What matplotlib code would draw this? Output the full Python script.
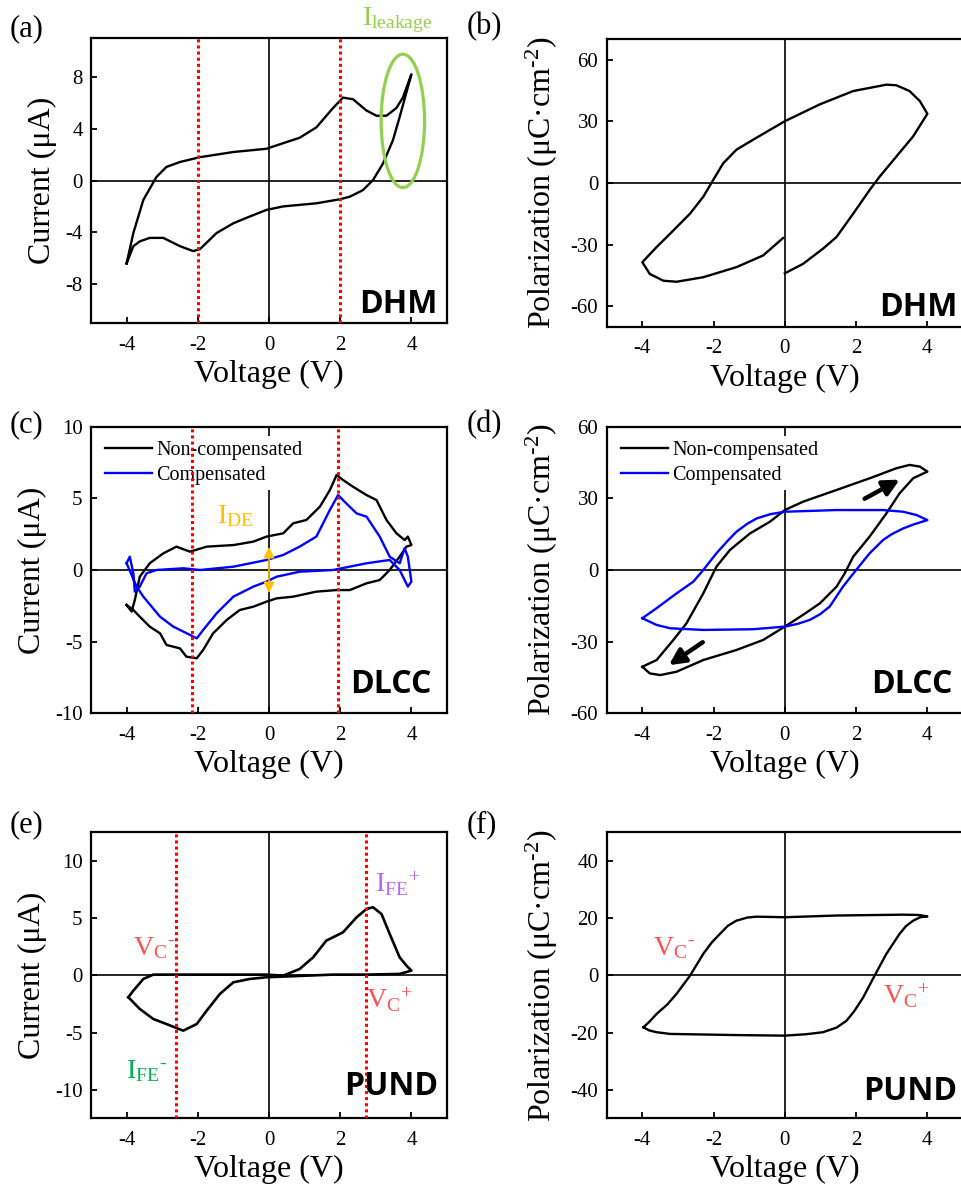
import numpy as np
import matplotlib
matplotlib.use('Agg')
import matplotlib.pyplot as plt
from matplotlib.patches import Ellipse

plt.rcParams['font.family'] = 'Liberation Serif'
plt.rcParams['mathtext.fontset'] = 'custom'
plt.rcParams['mathtext.rm'] = 'Liberation Serif'
plt.rcParams['mathtext.it'] = 'Liberation Serif:italic'
plt.rcParams['axes.unicode_minus'] = False

# (a) DHM current loop
dhm_i_v = [-4.0, -3.81, -3.53, -3.16, -2.88, -2.5, -1.94, -1.0, -0.07, 0.2, 0.86, 1.33, 1.8, 2.08, 2.36,
           2.74, 3.02, 3.3, 3.58, 3.76, 4.0, 3.9, 3.67, 3.48, 3.2, 2.92, 2.64, 2.27, 1.99, 1.33, 0.4, -0.07,
           -0.54, -1.0, -1.47, -1.94, -2.13, -2.5, -2.97, -3.35, -3.63, -3.81, -4.0]
dhm_i = [-6.4, -4.05, -1.5, 0.28, 1.05, 1.43, 1.8, 2.2, 2.45, 2.7, 3.3, 4.1, 5.6, 6.4, 6.27,
         5.4, 5.0, 5.0, 5.6, 6.4, 8.2, 7.2, 4.9, 3.1, 1.3, 0.03, -0.74, -1.25, -1.45, -1.76, -2.0, -2.27,
         -2.78, -3.3, -4.05, -5.3, -5.45, -5.07, -4.43, -4.43, -4.7, -5.07, -6.4]

# (b) DHM polarization loop
dhm_p_v = [0.0, 0.51, 1.07, 1.45, 1.92, 2.38, 2.66, 3.13, 3.6, 4.0, 3.79, 3.5, 3.13, 2.85, 1.92, 0.98, 0.0,
           -0.89, -1.36, -1.73, -2.01, -2.29, -2.66, -3.22, -3.6, -4.0, -3.79, -3.41, -3.04, -2.29, -1.36,
           -0.61, -0.05]
dhm_p = [-44.0, -39.4, -32.0, -26.3, -14.9, -3.4, 3.1, 12.9, 22.7, 33.7, 39.9, 44.8, 47.6, 47.9, 44.8, 38.3,
         30.1, 21.1, 16.2, 9.6, 1.5, -6.7, -14.9, -24.7, -31.2, -38.6, -44.3, -47.6, -48.1, -45.9, -41.0,
         -35.3, -26.8]

# (c) DLCC current, non-compensated / compensated
dlcc_nc_v = [-4.0, -3.86, -3.77, -3.63, -3.35, -2.97, -2.6, -2.22, -1.75, -1.0, -0.44, -0.07, 0.4, 0.68, 1.05,
             1.43, 1.71, 1.9, 2.08, 2.36, 2.74, 3.02, 3.3, 3.58, 3.81, 3.9, 4.0, 3.86, 3.67, 3.39, 3.11, 2.74,
             2.27, 1.9, 1.33, 0.68, 0.21, -0.07, -0.44, -0.82, -1.19, -1.57, -1.85, -2.03, -2.32, -2.5, -2.88,
             -3.06, -3.35, -3.63, -3.81, -4.0]
dlcc_nc_i = [-2.44, -2.9, -2.1, -0.47, 0.47, 1.16, 1.63, 1.28, 1.63, 1.74, 1.98, 2.33, 2.56, 3.26, 3.49,
             4.42, 5.58, 6.63, 6.28, 5.81, 5.23, 4.88, 3.49, 2.56, 2.09, 2.33, 1.74, 1.63, 0.93, 0.0, -0.7, -0.93,
             -1.4, -1.4, -1.51, -1.86, -1.98, -2.21, -2.56, -2.79, -3.49, -4.42, -5.58, -6.16, -6.05, -5.47, -5.23,
             -4.42, -3.95, -3.26, -2.79, -2.44]
dlcc_c_v = [-4.0, -3.91, -3.81, -3.77, -3.63, -3.44, -3.16, -2.41, -1.94, -1.0, -0.07, 0.4, 0.86, 1.33, 1.71,
            1.94, 2.17, 2.46, 2.74, 3.11, 3.39, 3.67, 3.81, 3.9, 4.0, 3.9, 3.67, 3.39, 2.74, 1.8, 0.86, 0.21,
            -0.07, -0.44, -1.0, -1.47, -1.85, -2.03, -2.22, -2.69, -3.06, -3.53, -3.72, -4.0]
dlcc_c_i = [0.47, 0.93, -0.23, -1.51, -1.16, -0.23, 0.0, 0.12, 0.0, 0.23, 0.7, 1.05, 1.63, 2.33, 4.19,
            5.23, 4.65, 3.95, 3.72, 2.33, 0.93, 0.47, 1.51, 0.93, -0.81, -1.16, 0.0, 0.7, 0.47, 0.0, -0.12, -0.47,
            -0.81, -1.16, -1.86, -3.02, -4.19, -4.77, -4.53, -3.95, -3.26, -1.86, -1.16, 0.47]

# (d) DLCC polarization, non-compensated / compensated
dlcc_nc_pv = [-4.0, -3.6, -3.13, -2.76, -2.29, -1.92, -1.54, -0.98, -0.42, 0.0, 0.51, 1.45, 2.38, 3.13, 3.5,
              3.79, 4.0, 3.6, 3.22, 2.85, 2.38, 1.92, 1.68, 1.45, 0.98, 0.51, 0.0, -0.61, -1.36, -2.29, -3.04,
              -3.5, -3.79, -4.0]
dlcc_nc_p = [-40.5, -37.7, -29.3, -22.3, -9.8, 1.4, 8.4, 15.3, 20.2, 25.1, 28.6, 33.5, 38.4, 42.6, 44.0,
             43.3, 41.2, 38.4, 32.1, 23.7, 14.0, 5.6, -1.4, -7.0, -14.0, -18.8, -23.7, -29.3, -33.5, -37.7, -42.6,
             -44.0, -43.3, -40.5]
dlcc_c_pv = [-4.0, -3.6, -3.04, -2.57, -2.29, -1.92, -1.6, -1.36, -1.05, -0.79, -0.4, 0.0, 1.45, 2.76, 3.32,
             3.7, 4.0, 3.6, 3.32, 3.0, 2.76, 2.38, 2.0, 1.63, 1.26, 0.98, 0.7, 0.35, 0.0, -0.89, -2.29, -3.22,
             -3.6, -4.0]
dlcc_c_p = [-20.2, -16.0, -9.8, -4.9, 0.0, 7.0, 12.3, 16.0, 19.4, 21.6, 23.4, 24.4, 25.1, 25.1, 24.4,
            23.0, 20.9, 19.0, 17.4, 15.0, 12.6, 7.0, 0.0, -7.0, -15.3, -18.6, -20.9, -22.6, -23.7, -24.8, -25.1,
            -24.4, -23.0, -20.2]

# (e) PUND current loop
pund_i_v = [-3.95, -3.81, -3.53, -3.25, -1.94, -0.07, 0.4, 0.86, 1.24, 1.61, 2.08, 2.46, 2.74, 2.92, 3.16,
            3.39, 3.67, 3.86, 4.0, 3.67, 2.74, 1.8, -0.07, -0.54, -1.0, -1.38, -1.75, -2.03, -2.41, -2.88,
            -3.25, -3.63, -3.95]
pund_i = [-1.92, -1.34, -0.32, 0.06, 0.06, 0.06, -0.03, 0.55, 1.57, 3.03, 3.76, 5.07, 5.8, 5.95, 5.36,
          3.62, 1.57, 0.85, 0.41, 0.12, 0.06, 0.06, -0.17, -0.32, -0.61, -1.63, -3.09, -4.26, -4.84, -4.26,
          -3.82, -2.94, -1.92]

# (f) PUND polarization loop
pund_p_v = [-3.97, -3.8, -3.6, -3.3, -3.04, -2.66, -2.29, -2.05, -1.82, -1.6, -1.36, -1.05, -0.79, 0.0, 1.45,
            3.32, 3.75, 4.0, 3.8, 3.6, 3.4, 3.22, 2.85, 2.52, 2.2, 1.95, 1.73, 1.45, 1.07, 0.6, 0.0, -1.36,
            -3.22, -3.6, -3.8, -3.97]
pund_p = [-18.2, -16.2, -13.5, -10.2, -6.5, -0.1, 7.5, 11.5, 14.5, 17.3, 19.1, 20.2, 20.5, 20.3, 20.9,
          21.2, 21.1, 20.6, 20.3, 19.1, 17.2, 14.5, 7.5, -0.1, -7.7, -12.5, -15.9, -18.3, -19.9, -20.6, -21.1,
          -20.9, -20.5, -19.9, -19.3, -18.2]

# coercive / peak voltage markers
vlines_a = [-2.0, 2.0]
vlines_c = [-2.15, 1.95]
vlines_e = [-2.62, 2.72]

volt_ticks = [-4, -2, 0, 2, 4]
W, H = 961, 1185


def box(left, top, right, bottom):
    return [left / W, 1 - bottom / H, (right - left) / W, (bottom - top) / H]


fig = plt.figure(figsize=(W / 100, H / 100), dpi=100)
axa = fig.add_axes(box(91, 38, 447, 323))
axb = fig.add_axes(box(606.7, 39.3, 963, 326.7))
axc = fig.add_axes(box(91, 426.7, 447, 713.3))
axd = fig.add_axes(box(606.7, 426.7, 963, 713.3))
axe = fig.add_axes(box(91, 832.3, 447, 1118.3))
axf = fig.add_axes(box(606.7, 832.3, 963, 1118.3))

curr_label = 'Current (μA)'
pol_label = r'Polarization (μC·cm$^{\text{-2}}$)'

setup = [
    (axa, (-11, 11), [-8, -4, 0, 4, 8], curr_label, 'DHM', 0.972, 0.035),
    (axb, (-70, 70), [-60, -30, 0, 30, 60], pol_label, 'DHM', 0.984, 0.037),
    (axc, (-10, 10), [-10, -5, 0, 5, 10], curr_label, 'DLCC', 0.957, 0.07),
    (axd, (-60, 60), [-60, -30, 0, 30, 60], pol_label, 'DLCC', 0.971, 0.07),
    (axe, (-12.5, 12.5), [-10, -5, 0, 5, 10], curr_label, 'PUND', 0.976, 0.081),
    (axf, (-50, 50), [-40, -20, 0, 20, 40], pol_label, 'PUND', 0.983, 0.064),
]
for ax, ylim, yt, ylab, tag, tx, ty in setup:
    ax.set_xlim(-5, 5)
    ax.set_ylim(*ylim)
    ax.set_xticks(volt_ticks)
    ax.set_yticks(yt)
    ax.tick_params(direction='in', length=4, width=1.3, labelsize=15, pad=6)
    ax.tick_params(axis='x', pad=9)
    for s in ax.spines.values():
        s.set_linewidth(1.6)
    ax.axhline(0, color='black', lw=1.2, zorder=1)
    ax.axvline(0, color='black', lw=1.2, zorder=1)
    ax.set_xlabel('Voltage (V)', fontsize=23, labelpad=4)
    ax.set_ylabel(ylab, fontsize=23, labelpad=6 if ylab == curr_label else 8)
    ax.text(tx, ty, tag, transform=ax.transAxes, ha='right', va='baseline',
            fontsize=23, fontweight='bold', family='Open Sans', zorder=7)

red_dots = dict(color='red', lw=2.2, ls=(0, (1, 1)), zorder=6)
leg_kw = dict(loc='upper left', fontsize=14.5, handlelength=2.35, handletextpad=0.2,
              labelspacing=0.3, borderpad=0.25, borderaxespad=0.45, fancybox=False,
              framealpha=1, edgecolor='none')

# (a)
axa.plot(dhm_i_v, dhm_i, color='black', lw=1.7, zorder=3)
for v in vlines_a:
    axa.axvline(v, **red_dots)
axa.add_patch(Ellipse((3.76, 4.6), 1.22, 10.3, fill=False, edgecolor='#92D050', lw=2.3, zorder=4))
axa.text(2.62, 12.0, r'$\mathrm{I_{leakage}}$', color='#92D050', fontsize=20, va='baseline', clip_on=False)

# (b)
axb.plot(dhm_p_v, dhm_p, color='black', lw=1.7, zorder=3)

# (c)
axc.plot(dlcc_nc_v, dlcc_nc_i, color='black', lw=1.7, zorder=3, label='Non-compensated')
axc.plot(dlcc_c_v, dlcc_c_i, color='blue', lw=1.7, zorder=3, label='Compensated')
for v in vlines_c:
    axc.axvline(v, **red_dots)
axc.annotate('', xy=(0, 1.8), xytext=(0, -1.8),
             arrowprops=dict(arrowstyle='<|-|>', color='#FFC000', lw=1.2, mutation_scale=16), zorder=4)
axc.text(-1.47, 3.3, r'$\mathrm{I_{DE}}$', color='#FFC000', fontsize=20, va='baseline')
axc.legend(**leg_kw)

# (d)
axd.plot(dlcc_nc_pv, dlcc_nc_p, color='black', lw=1.7, zorder=3, label='Non-compensated')
axd.plot(dlcc_c_pv, dlcc_c_p, color='blue', lw=1.7, zorder=3, label='Compensated')
arrow_kw = dict(arrowstyle='-|>', color='black', lw=3.2, mutation_scale=24)
axd.annotate('', xy=(3.29, 38.4), xytext=(2.17, 29.3), arrowprops=arrow_kw)
axd.annotate('', xy=(-3.32, -40.5), xytext=(-2.24, -29.6), arrowprops=arrow_kw)
axd.legend(**leg_kw)

# (e)
axe.plot(pund_i_v, pund_i, color='black', lw=1.9, zorder=3)
for v in vlines_e:
    axe.axvline(v, **red_dots)
axe.text(-3.83, 1.8, r'${\mathrm{V_C}}^{\text{-}}$', color='#FF5050', fontsize=20, va='baseline')
axe.text(2.73, -2.9, r'${\mathrm{V_C}}^{+}$', color='#FF5050', fontsize=20, va='baseline')
axe.text(2.97, 7.25, r'${\mathrm{I_{FE}}}^{+}$', color='#B266FF', fontsize=20, va='baseline')
axe.text(-4.03, -9.0, r'${\mathrm{I_{FE}}}^{\text{-}}$', color='#00B050', fontsize=20, va='baseline')

# (f)
axf.plot(pund_p_v, pund_p, color='black', lw=1.7, zorder=3)
axf.text(-3.71, 7.2, r'${\mathrm{V_C}}^{\text{-}}$', color='#FF5050', fontsize=20, va='baseline')
axf.text(2.75, -10.0, r'${\mathrm{V_C}}^{+}$', color='#FF5050', fontsize=20, va='baseline')

# panel letters
for lab, x, y in [('(a)', 10, 36), ('(b)', 467, 34), ('(c)', 10, 432),
                  ('(d)', 467, 432), ('(e)', 10, 832), ('(f)', 467, 832)]:
    fig.text(x / W, 1 - y / H, lab, fontsize=22, va='baseline')

fig.savefig('out.png', dpi=100)
